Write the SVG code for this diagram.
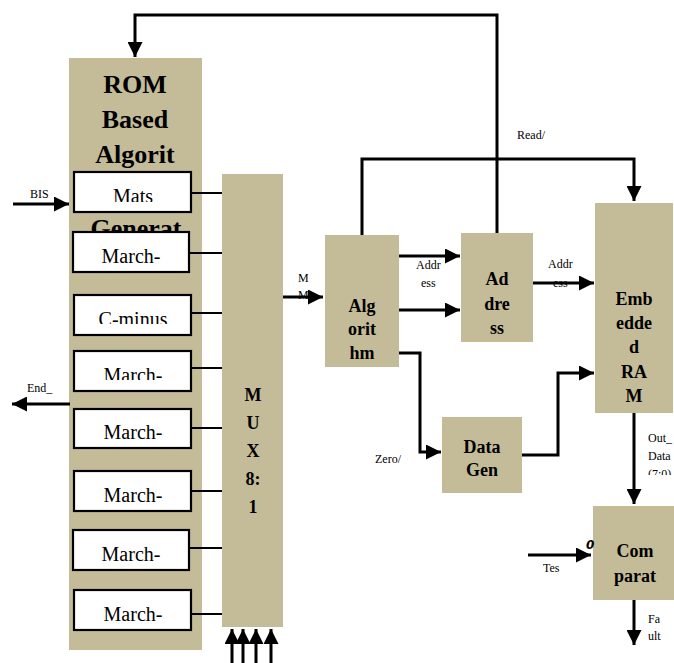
<svg xmlns="http://www.w3.org/2000/svg" width="674" height="663" viewBox="0 0 674 663">
<style>
.blk{fill:#C4BC98}
.box{fill:#fff;stroke:#000;stroke-width:2.2}
.bt{font-family:"Liberation Serif","Times New Roman",serif;font-weight:bold;fill:#000;text-anchor:middle}
.lt{font-family:"Liberation Serif","Times New Roman",serif;font-size:20px;text-anchor:middle;fill:#000}
.sm{font-family:"Liberation Serif","Times New Roman",serif;font-size:12px;fill:#000}
.ln{fill:none;stroke:#000;stroke-width:3}
.thin{fill:none;stroke:#000;stroke-width:2}
.arr{marker-end:url(#ah)}
</style>
<defs>
<marker id="ah" markerUnits="userSpaceOnUse" markerWidth="16" markerHeight="15" refX="15" refY="7.5" orient="auto" viewBox="0 0 16 15">
<path d="M0,0 L15,7.5 L0,15 z" fill="#000"/>
</marker>
<clipPath id="cMats"><rect x="74" y="172" width="117" height="30"/></clipPath>
<clipPath id="cCmin"><rect x="74" y="295" width="117" height="29"/></clipPath>
<clipPath id="cM4"><rect x="74" y="351" width="117" height="29"/></clipPath>
<clipPath id="cAddr"><rect x="461" y="233" width="72" height="101"/></clipPath>
<clipPath id="cAlg"><rect x="325" y="235" width="74" height="124"/></clipPath>
<clipPath id="cOut"><rect x="640" y="425" width="34" height="50"/></clipPath>
</defs>

<g id="rom">
<rect class="blk" x="69" y="58" width="133" height="592"/>
<text class="bt" x="135" y="93" font-size="26">ROM</text>
<text class="bt" x="135" y="128" font-size="26">Based</text>
<text class="bt" x="135" y="163" font-size="26">Algorit</text>
<text class="bt" x="136" y="237" font-size="26">Generat</text>
</g>

<g id="connectors">
<path class="thin" d="M190,193 H222 M189,253 H222 M190,313 H222 M190,368 H222 M190,428 H222 M190,491 H222 M189,548 H222 M190,614 H222"/>
<path class="ln arr" d="M497,233 V15 H135 V57"/>
<path class="ln arr" d="M362,235 V159 H634 V201"/>
<path class="ln arr" d="M13,204 H69"/>
<path class="ln arr" d="M70,404 H12"/>
<path class="ln arr" d="M283,297 H323"/>
<path class="ln arr" d="M399,256 H460"/>
<path class="ln arr" d="M399,310 H460"/>
<path class="ln arr" d="M533,283 H594"/>
<path class="ln arr" d="M399,353 H420 V452 H441"/>
<path class="ln arr" d="M521,455 H558 V373 H594"/>
<path class="ln arr" d="M634,413 V504"/>
<path class="ln arr" d="M528,555 H591"/>
<path class="ln arr" d="M634,600 V645"/>
<path class="ln arr" d="M232,663 V629"/>
<path class="ln arr" d="M243,663 V629"/>
<path class="ln arr" d="M256,663 V629"/>
<path class="ln arr" d="M271,663 V629"/>
</g>

<g id="mats"><rect class="box" x="74" y="172" width="117" height="40"/><text class="lt" x="133" y="203" clip-path="url(#cMats)">Mats</text></g>
<g id="march1"><rect class="box" x="73" y="232" width="116" height="40"/><text class="lt" x="131" y="263">March-</text></g>
<g id="cminus"><rect class="box" x="74" y="295" width="117" height="40"/><text class="lt" x="133" y="326" clip-path="url(#cCmin)">C-minus</text></g>
<g id="march2"><rect class="box" x="74" y="351" width="117" height="40"/><text class="lt" x="133" y="382" clip-path="url(#cM4)">March-</text></g>
<g id="march3"><rect class="box" x="74" y="409" width="117" height="39"/><text class="lt" x="133" y="439">March-</text></g>
<g id="march4"><rect class="box" x="74" y="471" width="117" height="40"/><text class="lt" x="133" y="502">March-</text></g>
<g id="march5"><rect class="box" x="73" y="530" width="116" height="40"/><text class="lt" x="131" y="561">March-</text></g>
<g id="march6"><rect class="box" x="74" y="590" width="117" height="40"/><text class="lt" x="133" y="621">March-</text></g>

<g id="mux">
<rect class="blk" x="222" y="174" width="61" height="453"/>
<text class="bt" x="253" y="401" font-size="18">M</text>
<text class="bt" x="253" y="429" font-size="18">U</text>
<text class="bt" x="253" y="457" font-size="18">X</text>
<text class="bt" x="253" y="485" font-size="18">8:</text>
<text class="bt" x="253" y="513" font-size="18">1</text>
</g>

<g id="algorithm">
<rect class="blk" x="325" y="235" width="74" height="132"/>
<g clip-path="url(#cAlg)">
<text class="bt" x="362" y="312" font-size="18">Alg</text>
<text class="bt" x="362" y="335" font-size="18">orit</text>
<text class="bt" x="362" y="359" font-size="18">hm</text>
</g>
</g>

<g id="address">
<rect class="blk" x="461" y="233" width="72" height="109"/>
<g clip-path="url(#cAddr)">
<text class="bt" x="497" y="285" font-size="18">Ad</text>
<text class="bt" x="497" y="310" font-size="18">dre</text>
<text class="bt" x="497" y="334" font-size="18">ss</text>
</g>
</g>

<g id="ram">
<rect class="blk" x="595" y="203" width="78" height="210"/>
<text class="bt" x="634" y="305" font-size="18">Emb</text>
<text class="bt" x="634" y="329" font-size="18">edde</text>
<text class="bt" x="634" y="353" font-size="18">d</text>
<text class="bt" x="634" y="378" font-size="18">RA</text>
<text class="bt" x="634" y="402" font-size="18">M</text>
</g>

<g id="datagen">
<rect class="blk" x="442" y="417" width="80" height="76"/>
<text class="bt" x="482" y="453" font-size="18">Data</text>
<text class="bt" x="482" y="476" font-size="18">Gen</text>
</g>

<g id="comparator">
<rect class="blk" x="593" y="506" width="81" height="94"/>
<text class="bt" x="635" y="557" font-size="18">Com</text>
<text class="bt" x="635" y="582" font-size="18">parat</text>
</g>

<g id="labels">
<text class="sm" x="30" y="198">BIS</text>
<text class="sm" x="27" y="392">End_</text>
<text class="sm" x="298" y="282">M</text>
<text class="sm" x="298" y="299">M</text>
<text class="sm" x="416" y="269">Addr</text>
<text class="sm" x="421" y="287">ess</text>
<text class="sm" x="548" y="268">Addr</text>
<text class="sm" x="553" y="287">ess</text>
<text class="sm" x="517" y="139">Read/</text>
<text class="sm" x="375" y="463">Zero/</text>
<text class="sm" x="648" y="442">Out_</text>
<text class="sm" x="648" y="460">Data</text>
<text class="sm" x="648" y="478" clip-path="url(#cOut)">(7:0)</text>
<text class="sm" x="543" y="572">Tes</text>
<text x="586" y="549" font-family="DejaVu Sans, sans-serif" font-size="12" font-style="italic" font-weight="bold">0</text>
<text class="sm" x="648" y="623">Fa</text>
<text class="sm" x="648" y="640">ult</text>
</g>
</svg>
